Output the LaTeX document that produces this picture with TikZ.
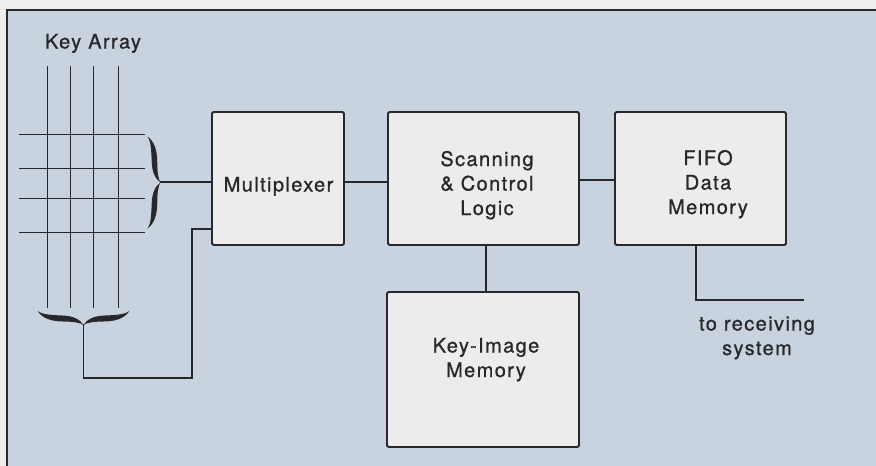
\documentclass[tikz,border=0pt]{standalone}
\usepackage{fontspec}
\setmainfont{TeX Gyre Heros}[LetterSpace=7,FakeBold=0.9]
\definecolor{bgblue}{RGB}{201,211,223}
\definecolor{boxfill}{RGB}{236,236,236}
\definecolor{ink}{RGB}{40,40,44}
\definecolor{paper}{RGB}{238,238,238}
% mustache-like brace: #1 half span, #2 depth; local x along span, local y towards tip
\newcommand{\bracefill}[2]{%
  \fill[ink] (0,#2) .. controls ({-0.07*#1},{0.6*#2}) and ({-0.22*#1},{0.33*#2}) .. ({-0.44*#1},{0.3*#2})
     .. controls ({-0.7*#1},{0.26*#2}) and ({-0.9*#1},{0.24*#2}) .. ({-#1},{-0.05*#2})
     .. controls ({-0.9*#1},{0.5*#2}) and ({-0.7*#1},{0.74*#2}) .. ({-0.44*#1},{0.74*#2})
     .. controls ({-0.22*#1},{0.75*#2}) and ({-0.07*#1},{0.82*#2}) .. (0,#2) -- cycle;
  \fill[ink] (0,#2) .. controls ({0.07*#1},{0.6*#2}) and ({0.22*#1},{0.33*#2}) .. ({0.44*#1},{0.3*#2})
     .. controls ({0.7*#1},{0.26*#2}) and ({0.9*#1},{0.24*#2}) .. ({#1},{-0.05*#2})
     .. controls ({0.9*#1},{0.5*#2}) and ({0.7*#1},{0.74*#2}) .. ({0.44*#1},{0.74*#2})
     .. controls ({0.22*#1},{0.75*#2}) and ({0.07*#1},{0.82*#2}) .. (0,#2) -- cycle;}
\begin{document}
\begin{tikzpicture}[x=1pt,y=-1pt,
  blk/.style={draw=ink,line width=1.8pt,rounded corners=1.5pt,fill=boxfill,inner sep=0pt},
  txt/.style={font=\fontsize{20}{24.5}\selectfont,text=ink,align=center,inner sep=0pt,anchor=base},
  wire/.style={draw=ink,line width=1.1pt},
  grid/.style={draw=ink,line width=1pt}]
\useasboundingbox (0,0) rectangle (876,466);
\fill[paper] (0,0) rectangle (876,466);
\fill[bgblue] (7,10) rectangle (880,470);
\draw[ink,line width=1.8pt] (7,470) -- (7,10) -- (880,10);
% key array
\node[txt] (keyarr) at (93,48.5) {Key Array};
\foreach \x in {47,70,93,118} \draw[grid] (\x,66) -- (\x,308);
\foreach \y in {134,168,198,232} \draw[grid] (19,\y) -- (145,\y);
% braces
\begin{scope}[shift={(148,182.5)},x={(0pt,-1pt)},y={(1pt,0pt)}]
  \bracefill{46}{12.5}
\end{scope}
\coordinate (rb) at (160,182);
\begin{scope}[shift={(83.5,311.5)}]
  \bracefill{46}{13.5}
\end{scope}
\coordinate (bb) at (83.5,324);
% blocks
\node[blk,minimum width=132pt,minimum height=133pt] (mux) at (278,178.5) {};
\node[blk,minimum width=191pt,minimum height=133pt] (scan) at (483.5,178.5) {};
\node[blk,minimum width=171pt,minimum height=133pt] (fifo) at (700.5,178.5) {};
\node[blk,minimum width=192pt,minimum height=155pt] (kim) at (483,369.5) {};
\node[txt] (muxt) at (278.5,191.5) {Multiplexer};
\node[txt] (scant) at (487,215) {Scanning\\\& Control\\Logic};
\node[txt] (fifot) at (708,214) {FIFO\\Data\\Memory};
\node[txt] (kimt) at (486,377) {Key-Image\\Memory};
\node[txt] (recv) at (757,355) {to receiving\\system};
% connectors
\coordinate (c1) at (192,378);
\coordinate (c2) at (192,229);
\coordinate (out) at (804,300);
\draw[wire] (rb) -- (rb -| mux.west);
\draw[wire] (bb) |- (c1) -- (c2) -- (c2 -| mux.west);
\draw[wire] (mux.east |- rb) -- (scan.west |- rb);
\draw[wire] (scan.east |- 0,180) -- (fifo.west |- 0,180);
\draw[wire] (scan.south -| 486,0) -- (kim.north -| 486,0);
\draw[wire] (fifo.south -| 696,0) |- (out);
\end{tikzpicture}
\end{document}
